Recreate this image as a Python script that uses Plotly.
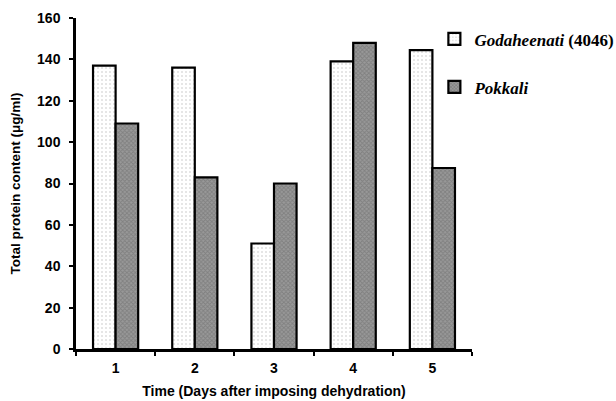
import plotly.graph_objects as go

days = ["1", "2", "3", "4", "5"]
godaheenati = [137, 136, 51, 139, 144.5]
pokkali = [109, 83, 80, 148, 87.5]
y_ticks = [0, 20, 40, 60, 80, 100, 120, 140, 160]

fig = go.Figure()
fig.add_trace(go.Bar(
    x=days, y=godaheenati, name="<i>Godaheenati</i> (4046)", legendgroup="g",
    marker=dict(color="#ffffff", line=dict(color="black", width=2.2),
                pattern=dict(shape=".", fgcolor="#bdbdbd", bgcolor="#ffffff", size=4, solidity=0.2)),
))
fig.add_trace(go.Bar(
    x=days, y=pokkali, name="<i>Pokkali</i>", legendgroup="p",
    marker=dict(color="#808080", line=dict(color="black", width=2.2),
                pattern=dict(shape="x", fgcolor="#666666", bgcolor="#999999", size=3, solidity=0.5)),
))

fig.update_layout(
    width=616, height=401,
    margin=dict(l=76, r=144, t=18, b=52, autoexpand=False),
    paper_bgcolor="white", plot_bgcolor="white",
    barmode="group", bargap=0.43, bargroupgap=0,
    font=dict(family="Liberation Sans", color="black"),
    hovermode=False,
    legend=dict(
        x=0.905, y=0.99, xanchor="left", yanchor="top",
        font=dict(family="Liberation Serif", size=17, color="black", weight="bold"),
        traceorder="grouped", tracegroupgap=23,
        bgcolor="rgba(0,0,0,0)", itemwidth=30,
    ),
    xaxis=dict(
        automargin=False,
        showline=True, linecolor="black", linewidth=2.5,
        ticks="outside", tickson="boundaries", ticklen=4, tickwidth=2, tickcolor="black",
        ticklabelstandoff=4,
        tickfont=dict(size=14, weight="bold"),
        title=dict(text="Time (Days after imposing dehydration)", font=dict(size=14, weight="bold"), standoff=12),
        showgrid=False, zeroline=False,
    ),
    yaxis=dict(
        automargin=False,
        range=[0, 160], tickvals=y_ticks,
        showline=True, linecolor="black", linewidth=2.5,
        ticks="outside", ticklen=4, tickwidth=2, tickcolor="black",
        ticklabelstandoff=6,
        tickfont=dict(size=14, weight="bold"),
        title=dict(text="Total protein content (μg/ml)", font=dict(size=13.5, weight="bold"), standoff=14),
        showgrid=False, zeroline=False,
    ),
)

fig.write_html(
    "out.html",
    config={"displayModeBar": False},
    post_script="document.body.style.margin='0';document.body.style.overflow='hidden';",
)
